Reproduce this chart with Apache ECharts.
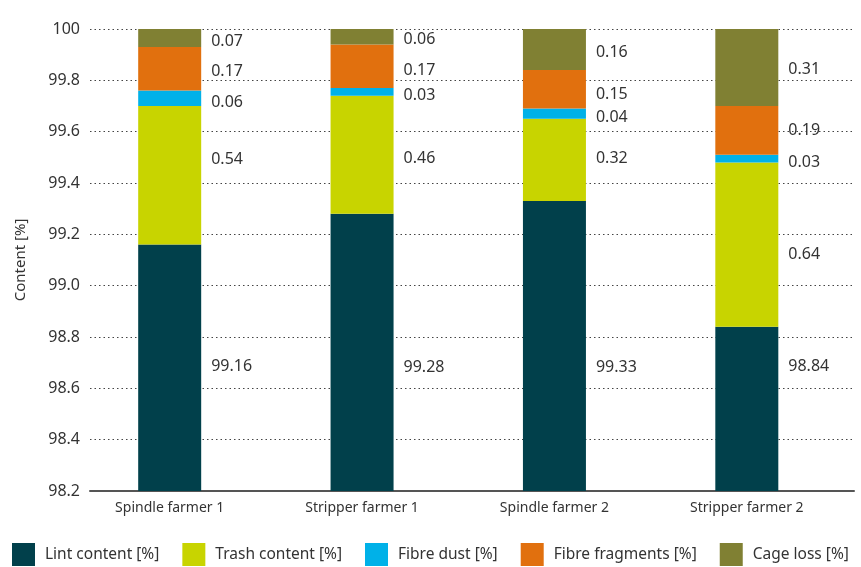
<!DOCTYPE html>
<html>
<head>
<meta charset="utf-8">
<script src="https://cdn.jsdelivr.net/npm/echarts@6/dist/echarts.min.js"></script>
<style>html,body{margin:0;padding:0;background:#fff}#c{width:861px;height:567px}</style>
</head>
<body>
<div id="c"></div>
<script>
const categories = ['Spindle farmer 1', 'Stripper farmer 1', 'Spindle farmer 2', 'Stripper farmer 2'];
const seriesNames = ['Lint content [%]', 'Trash content [%]', 'Fibre dust [%]', 'Fibre fragments [%]', 'Cage loss [%]'];
const lintContent = [99.16, 99.28, 99.33, 98.84];
const trashContent = [0.54, 0.46, 0.32, 0.64];
const fibreDust = [0.06, 0.03, 0.04, 0.03];
const fibreFragments = [0.17, 0.17, 0.15, 0.19];
const cageLoss = [0.07, 0.06, 0.16, 0.31];
const yTicks = [98.2, 98.4, 98.6, 98.8, 99.0, 99.2, 99.4, 99.6, 99.8, 100];

// styling (not data)
const colors = ['#01404b', '#c8d400', '#00b1e8', '#e1700e', '#808033'];
const labelOffsets = [
  [-1, 15, 21, -42],
  [-16, 4, -1, 10],
  [4, 4, 4, 4],
  [3, 4, 5, 0],
  [3, 3, 3, 2]
];
const FONT = '"Noto Sans", sans-serif';
const txt = '#333';

const allData = [lintContent, trashContent, fibreDust, fibreFragments, cageLoss];

const chart = echarts.init(document.getElementById('c'), null, {renderer: 'canvas'});
const series = allData.map((arr, si) => ({
  name: seriesNames[si],
  type: 'bar',
  stack: 'total',
  xAxisIndex: 1,
  yAxisIndex: 1,
  barWidth: 63,
  itemStyle: {color: colors[si]},
  emphasis: {disabled: true},
  data: arr.map((v, i) => ({
    value: v,
    label: {
      show: true,
      position: 'right',
      distance: 10,
      offset: [0, labelOffsets[si][i]],
      formatter: () => v.toFixed(2),
      fontFamily: FONT,
      fontSize: 16,
      color: txt
    }
  }))
}));

chart.setOption({
  animation: false,
  color: colors,
  grid: [
    {left: 90, right: 7, top: 29, bottom: 76},
    {left: 73.5, right: 18, top: 29, bottom: 76}
  ],
  xAxis: [
    {gridIndex: 0, type: 'value', min: 0, max: 1, axisLine: {show: true, onZero: false, lineStyle: {color: '#555', width: 2}},
     axisTick: {show: false}, axisLabel: {show: false}, splitLine: {show: false}},
    {gridIndex: 1, type: 'category', data: categories, axisLine: {show: false}, axisTick: {show: false},
     axisLabel: {fontFamily: FONT, fontSize: 14, color: txt, margin: 10}}
  ],
  yAxis: [
    {gridIndex: 0, type: 'value', min: 98.2, max: 100, interval: 0.2,
     name: 'Content [%]', nameLocation: 'middle', nameGap: 62, nameRotate: 90,
     nameTextStyle: {fontFamily: FONT, fontSize: 15, color: txt},
     axisLine: {show: false}, axisTick: {show: false},
     axisLabel: {fontFamily: FONT, fontSize: 16, color: txt, margin: 10,
       formatter: v => String(parseFloat(v.toFixed(1)) === 99 ? '99.0' : parseFloat(v.toFixed(1)))},
     splitLine: {show: true, lineStyle: {color: '#444', type: [1.5, 3], width: 1}}},
    {gridIndex: 1, type: 'value', min: 98.2, max: 100, interval: 0.2, show: false, splitLine: {show: false}}
  ],
  legend: {
    left: 12, bottom: 1, padding: 0,
    itemWidth: 23, itemHeight: 23, itemGap: 23,
    icon: 'rect',
    data: seriesNames,
    textStyle: {fontFamily: FONT, fontSize: 15.5, color: txt, padding: [0, 0, 0, 5]}
  },
  series: series
});
</script>
</body>
</html>
